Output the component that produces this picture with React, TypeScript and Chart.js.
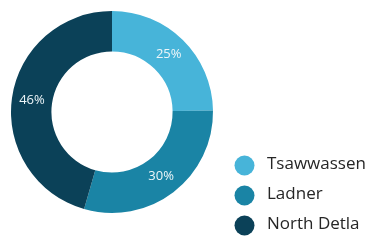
import React, { useEffect, useRef } from "react";
import { Chart, registerables } from "chart.js";

Chart.register(...registerables);

const categories = ["Tsawwassen", "Ladner", "North Detla"];
const values = [25, 30, 46];
const valueLabels = ["25%", "30%", "46%"];
const colors = ["#47b4d9", "#1a84a5", "#0b4158"];

const sliceLabelPlugin = {
  id: "sliceLabels",
  afterDatasetsDraw(chart: any) {
    const ctx = chart.ctx;
    const meta = chart.getDatasetMeta(0);
    ctx.save();
    ctx.fillStyle = "#eef6f9";
    ctx.font = "13px 'Open Sans'";
    ctx.textAlign = "center";
    ctx.textBaseline = "middle";
    meta.data.forEach((arc: any, i: number) => {
      const p = arc.getCenterPoint();
      ctx.fillText(valueLabels[i], p.x, p.y);
    });
    ctx.restore();
  },
};

const legendPlugin = {
  id: "customLegend",
  afterDraw(chart: any) {
    const ctx = chart.ctx;
    ctx.save();
    ctx.font = "500 17px 'Open Sans'";
    ctx.textAlign = "left";
    ctx.textBaseline = "middle";
    categories.forEach((c, i) => {
      const y = 165.5 + i * 30;
      ctx.fillStyle = colors[i];
      ctx.beginPath();
      ctx.arc(244.5, y, 10, 0, Math.PI * 2);
      ctx.fill();
      ctx.fillStyle = "#262626";
      ctx.fillText(c, 267, y - 1);
    });
    ctx.restore();
  },
};

export default function App() {
  const ref = useRef<HTMLCanvasElement>(null);
  useEffect(() => {
    if (!ref.current) return;
    const chart = new Chart(ref.current, {
      type: "doughnut",
      data: {
        labels: categories,
        datasets: [
          {
            data: values,
            backgroundColor: colors,
            borderWidth: 0,
          },
        ],
      },
      options: {
        animation: false,
        responsive: false,
        cutout: "60%",
        layout: { padding: { left: 11, top: 11, right: 162, bottom: 27 } },
        plugins: {
          legend: { display: false },
          tooltip: { enabled: false },
        },
      },
      plugins: [sliceLabelPlugin, legendPlugin],
    });
    return () => chart.destroy();
  }, []);
  return (
    <div style={{ position: "fixed", left: 0, top: 0, width: 375, height: 240, background: "#fff" }}>
      <canvas ref={ref} width={375} height={240} style={{ width: 375, height: 240 }} />
    </div>
  );
}
